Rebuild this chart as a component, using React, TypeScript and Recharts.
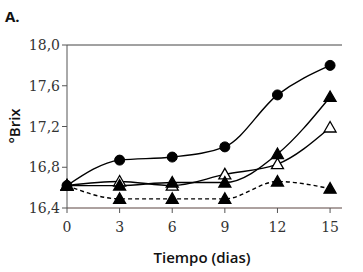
import { LineChart, Line, XAxis, YAxis, ReferenceLine } from 'recharts';

const days = [0, 3, 6, 9, 12, 15];
const circleSeries = [16.62, 16.87, 16.9, 17.0, 17.51, 17.8];
const filledTriangleSeries = [16.62, 16.62, 16.65, 16.65, 16.93, 17.49];
const openTriangleSeries = [16.62, 16.66, 16.62, 16.73, 16.83, 17.19];
const dashedTriangleSeries = [16.62, 16.49, 16.49, 16.49, 16.66, 16.59];
const yTicks = [16.4, 16.8, 17.2, 17.6, 18.0];

const data = days.map((d, i) => ({
  day: d,
  a: circleSeries[i],
  b: filledTriangleSeries[i],
  c: openTriangleSeries[i],
  d: dashedTriangleSeries[i],
}));

const serifFont = '"DejaVu Serif", "Liberation Serif", serif';
const sansFont = '"Open Sans", sans-serif';

const Triangle = (props: any) => {
  const { cx, cy, fill } = props;
  if (cx == null || cy == null) return null;
  return (
    <path
      d={`M${cx},${cy - 6} L${cx + 6},${cy + 4.5} L${cx - 6},${cy + 4.5} Z`}
      fill={fill}
      stroke="#000"
      strokeWidth={1.3}
    />
  );
};

const renderYTick = (props: any) => {
  const { x, y, payload } = props;
  return (
    <g key={`y-${payload.value}`}>
      <text x={x} y={y + 5} textAnchor="end" fontFamily={serifFont} fontSize={14} fill="#333">
        {payload.value.toFixed(1).replace('.', ',')}
      </text>
    </g>
  );
};

const renderXTick = (props: any) => {
  const { x, y, payload } = props;
  return (
    <g key={`x-${payload.value}`}>
      <text x={x} y={y + 17} textAnchor="middle" fontFamily={serifFont} fontSize={14} fill="#333">
        {payload.value}
      </text>
    </g>
  );
};

export default function App() {
  return (
    <div style={{ position: 'absolute', left: 0, top: 0, width: 363, height: 272, background: '#fff' }}>
      <LineChart width={363} height={272} data={data} margin={{ top: 45, right: 21, left: 7, bottom: 34 }}>
        <XAxis
          dataKey="day"
          type="number"
          domain={[0, 15.68]}
          ticks={days}
          height={30}
          stroke="#5a4540"
          tickLine={{ stroke: '#555' }}
          tickSize={5}
          tick={renderXTick}
        />
        <YAxis
          type="number"
          domain={[16.4, 18.0]}
          ticks={yTicks}
          width={60}
          stroke="#555"
          tickSize={5}
          tick={renderYTick}
        />
        <ReferenceLine y={18.0} stroke="#444" strokeWidth={1} />
        <Line
          type="monotone"
          dataKey="d"
          stroke="#000"
          strokeWidth={1.4}
          strokeDasharray="4 3"
          dot={<Triangle fill="#000" />}
          isAnimationActive={false}
        />
        <Line
          type="monotone"
          dataKey="c"
          stroke="#000"
          strokeWidth={1.4}
          dot={<Triangle fill="#fff" />}
          isAnimationActive={false}
        />
        <Line
          type="monotone"
          dataKey="b"
          stroke="#000"
          strokeWidth={1.4}
          dot={<Triangle fill="#000" />}
          isAnimationActive={false}
        />
        <Line
          type="monotone"
          dataKey="a"
          stroke="#000"
          strokeWidth={1.4}
          dot={{ r: 5, fill: '#000', stroke: '#000', strokeWidth: 1 }}
          isAnimationActive={false}
        />
        <text x={5} y={22} fontFamily={sansFont} fontWeight={700} fontSize={15} fill="#111">
          A.
        </text>
        <text
          x={14}
          y={126}
          transform="rotate(-90 14 126)"
          textAnchor="middle"
          dominantBaseline="central"
          fontFamily={sansFont}
          fontWeight={600}
          fontSize={15}
          fill="#111"
        >
          °Brix
        </text>
        <text
          x={202}
          y={257}
          textAnchor="middle"
          dominantBaseline="central"
          fontFamily={sansFont}
          fontWeight={600}
          fontSize={15}
          fill="#111"
        >
          Tiempo (dias)
        </text>
      </LineChart>
    </div>
  );
}
